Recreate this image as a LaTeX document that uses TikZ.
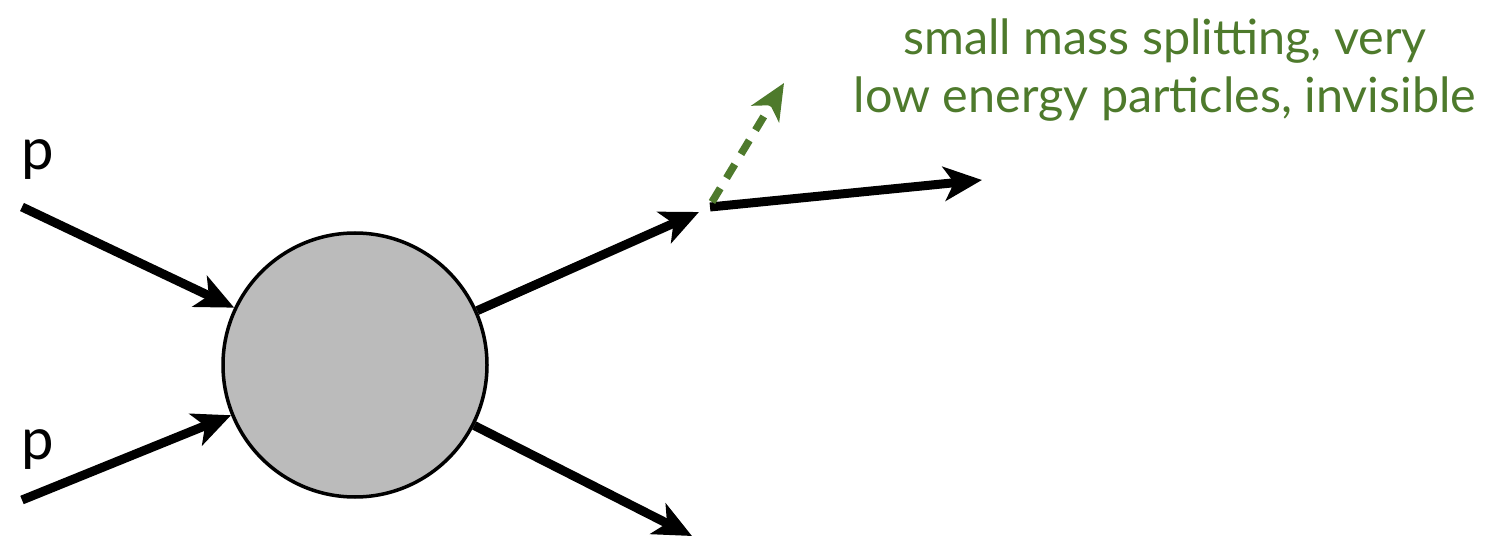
\documentclass[tikz,border=0pt]{standalone}
\usepackage{fontspec}
\setmainfont{Lato}
\usetikzlibrary{arrows.meta}
\definecolor{blobgray}{RGB}{187,187,187}
\definecolor{labelgreen}{RGB}{78,122,44}
\begin{document}
\begin{tikzpicture}[x=1pt,y=-1pt,
  particle/.style={line width=9pt,-{Stealth[length=38pt,width=34pt,inset=10pt]}},
  invisible/.style={line width=7.5pt,labelgreen,dash pattern=on 16pt off 12pt,-{Stealth[length=36pt,width=32pt,inset=10pt]}},
  blobstyle/.style={circle,draw=black,line width=3.5pt,fill=blobgray,minimum size=264pt,inner sep=0pt},
  plabel/.style={font=\fontsize{58}{64}\selectfont,text=black,inner sep=0pt},
  note/.style={font=\fontsize{48.5}{58}\selectfont,text=labelgreen,align=center,inner sep=0pt}]
\useasboundingbox (0,0) rectangle (1489,548);
\node[blobstyle] (blob) at (355,365) {};
\coordinate (s1) at (22,207);
\coordinate (s2) at (22,500);
\coordinate (t3) at (699,212);
\coordinate (s4) at (710,207);
\coordinate (t4) at (982,180);
\coordinate (t5) at (692,536);
\coordinate (s6) at (712,202);
\coordinate (t6) at (784,83);
\node[plabel] (p1) at (38,160) {p};
\node[plabel] (p2) at (38,450) {p};
\draw[particle] (s1) -- (blob);
\draw[particle] (s2) -- (blob);
\draw[particle] (blob) -- (t3);
\draw[particle] (s4) -- (t4);
\draw[particle] (blob) -- (t5);
\draw[invisible] (s6) -- (t6);
\node[note] (txt) at (1165,70) {small mass splitting, very\\low energy particles, invisible};
\end{tikzpicture}
\end{document}
